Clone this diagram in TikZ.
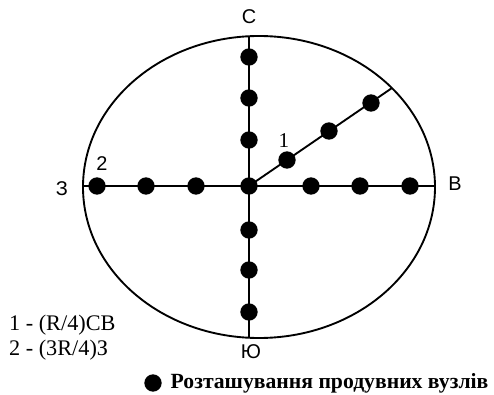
\documentclass[tikz,border=0pt]{standalone}
\usepackage{fontspec}
\setmainfont{Liberation Serif}
\newfontfamily\axisfont{Liberation Sans}
\usetikzlibrary{positioning}

\begin{document}
\begin{tikzpicture}[x=0.03cm, y=-0.03cm,
    nozzle/.style={circle, fill=black, minimum size=0.52cm, inner sep=0pt},
    axis/.style={line width=1.6pt},
    side/.style={font=\axisfont\fontsize{17}{17}\selectfont},
    lbl/.style={font=\fontsize{19}{20}\selectfont, anchor=west}]

    \useasboundingbox (0,0) rectangle (494,395);

    % Boundary
    \draw[axis] (259,187) ellipse [x radius=176, y radius=151];

    % Axis ends
    \coordinate (W) at (83,186);
    \coordinate (E) at (435,186);
    \coordinate (N) at (249,36);
    \coordinate (S) at (249,338);
    \coordinate (D) at (392,88);
    \coordinate (O) at (249,186);

    % Axes
    \draw[axis] (W) -- (E);
    \draw[axis] (N) -- (S);
    \draw[axis] (O) -- (D);

    % Nozzles
    \node[nozzle] (c0) at (O) {};
    \foreach \x [count=\i] in {97,146,196} { \node[nozzle] (w\i) at (\x,186) {}; }
    \foreach \x [count=\i] in {311,360,410} { \node[nozzle] (e\i) at (\x,186) {}; }
    \foreach \y [count=\i] in {57,98,140} { \node[nozzle] (n\i) at (249,\y) {}; }
    \foreach \y [count=\i] in {230,270,312} { \node[nozzle] (s\i) at (249,\y) {}; }
    \foreach \x/\y [count=\i] in {287/160,329/131,371/103} { \node[nozzle] (d\i) at (\x,\y) {}; }

    % Cardinal points
    \node[side] (north) at (249,17) {С};
    \node[side] (south) at (251,352) {Ю};
    \node[side] (west) at (62,189) {З};
    \node[side] (east) at (455,184) {В};

    % Position numbers
    \node[font=\fontsize{18}{18}\selectfont] (p1) at (284,141) {1};
    \node[side] (p2) at (102,164) {2};

    % Legend
    \node[lbl] (key1) at (5,325) {1 - (R/4)CB};
    \node[lbl] (key2) at (5,350) {2 - (3R/4)З};
    \node[nozzle] (keydot) at (153,383) {};
    \node[font=\bfseries\fontsize{18.5}{19}\selectfont, right=4pt of keydot] (keytext) {Розташування продувних вузлів};
\end{tikzpicture}
\end{document}
